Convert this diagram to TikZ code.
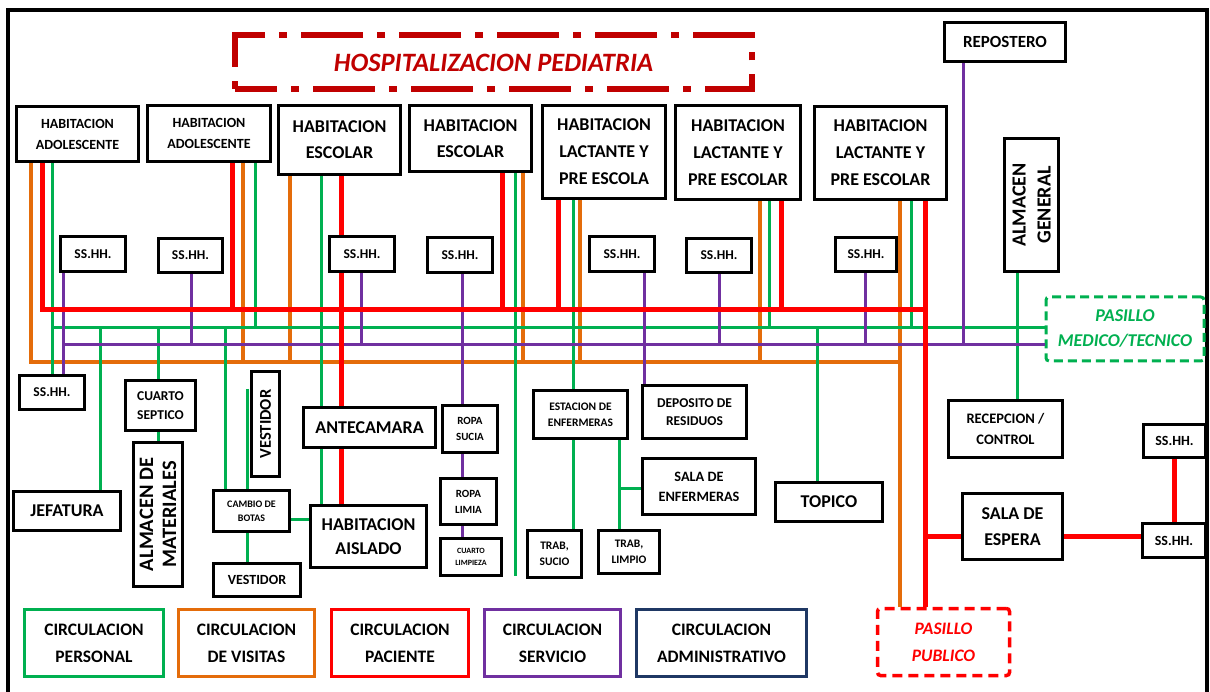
\documentclass[tikz,border=0pt]{standalone}
\usepackage{fontspec}
\setmainfont{Carlito}
\definecolor{cverde}{RGB}{0,176,80}
\definecolor{cnaranja}{RGB}{228,108,10}
\definecolor{crojo}{RGB}{255,0,0}
\definecolor{cmorado}{RGB}{112,48,160}
\definecolor{cazul}{RGB}{31,56,100}
\definecolor{cguinda}{RGB}{192,0,0}
\newcommand{\letra}[2]{\fontsize{#1}{#2}\selectfont\bfseries}
\tikzset{
  caja/.style={draw, line width=3.5pt, fill=white, align=center, inner sep=1pt},
  per/.style={cverde, line width=3pt},
  vis/.style={cnaranja, line width=4pt},
  pac/.style={crojo, line width=5pt},
  ser/.style={cmorado, line width=3pt},
  leyenda/.style={draw, line width=3pt, align=center, inner sep=1pt, minimum height=67, font=\letra{17.5}{27}},
}
\begin{document}
\begin{tikzpicture}[x=1pt, y=-1pt]
\useasboundingbox (0,0) rectangle (1210,692);

\draw[line width=4pt] (8,700) -- (8,10) -- (1207,10) -- (1207,700);

% titulo
\node[draw=cguinda, line width=6pt, dash pattern=on 62pt off 14pt on 8pt off 14pt, dash phase=20pt, text=cguinda,
  font={\letra{26.5}{30}\itshape}, minimum width=517, minimum height=54] (titulo) at (493.5,62.5) {HOSPITALIZACION PEDIATRIA};

% habitaciones
\node[caja, minimum width=122, minimum height=55, font=\letra{14}{21}] (hab1) at (77.5,134) {HABITACION\\ADOLESCENTE};
\node[caja, minimum width=123, minimum height=56, font=\letra{14}{21}] (hab2) at (209,133.5) {HABITACION\\ADOLESCENTE};
\node[caja, minimum width=122, minimum height=69, font=\letra{18}{26}] (hab3) at (339.5,140) {HABITACION\\ESCOLAR};
\node[caja, minimum width=122, minimum height=66, font=\letra{18}{26}] (hab4) at (470.5,138.5) {HABITACION\\ESCOLAR};
\node[caja, minimum width=123, minimum height=93, font=\letra{18}{27}] (hab5) at (604,152) {HABITACION\\LACTANTE Y\\PRE ESCOLA};
\node[caja, minimum width=125, minimum height=94, font=\letra{18}{27}] (hab6) at (738,152.5) {HABITACION\\LACTANTE Y\\PRE ESCOLAR};
\node[caja, minimum width=132, minimum height=93, font=\letra{18}{27}] (hab7) at (880.5,153) {HABITACION\\LACTANTE Y\\PRE ESCOLAR};

\node[caja, minimum width=121, minimum height=39, font=\letra{17}{20}] (repostero) at (1005,42) {REPOSTERO};
\node[caja, rotate=90, minimum width=133, minimum height=54, font=\letra{20}{25}] (almgen) at (1031.5,205) {ALMACEN\\GENERAL};
\node[caja, draw=cverde, line width=3pt, dash pattern=on 9pt off 5pt, rounded corners=3pt, text=cverde,
  minimum width=158, minimum height=64, font={\letra{18}{25}\itshape}] (pasmed) at (1125,329) {PASILLO\\MEDICO/TECNICO};

% servicios higienicos
\node[caja, minimum width=65, minimum height=35, font=\letra{13.5}{16}] (ss1) at (93,254) {SS.HH.};
\node[caja, minimum width=64, minimum height=34, font=\letra{13.5}{16}] (ss2) at (190.5,255.5) {SS.HH.};
\node[caja, minimum width=65, minimum height=35, font=\letra{13.5}{16}] (ss3) at (362,254) {SS.HH.};
\node[caja, minimum width=65, minimum height=35, font=\letra{13.5}{16}] (ss4) at (460,255) {SS.HH.};
\node[caja, minimum width=65, minimum height=35, font=\letra{13.5}{16}] (ss5) at (622,254) {SS.HH.};
\node[caja, minimum width=65, minimum height=34, font=\letra{13.5}{16}] (ss6) at (719,255.5) {SS.HH.};
\node[caja, minimum width=61, minimum height=34, font=\letra{13.5}{16}] (ss7) at (866,254.5) {SS.HH.};
\node[caja, minimum width=65, minimum height=34, font=\letra{13.5}{16}] (ss0) at (52,392.5) {SS.HH.};

% zona de personal
\node[caja, minimum width=70, minimum height=50, font=\letra{13.5}{19}] (septico) at (160.5,405.5) {CUARTO\\SEPTICO};
\node[caja, rotate=90, minimum width=144, minimum height=49, font=\letra{20.5}{23}] (almmat) at (158,514.5) {ALMACEN DE\\MATERIALES};
\node[caja, rotate=90, minimum width=105, minimum height=28, font=\letra{16.5}{18}] (vest1) at (265.5,424) {VESTIDOR};
\node[caja, minimum width=107, minimum height=39, font=\letra{18}{20}] (jefatura) at (67,511) {JEFATURA};
\node[caja, minimum width=76, minimum height=41, font=\letra{10}{14}] (cambio) at (251.5,511) {CAMBIO DE\\BOTAS};
\node[caja, minimum width=87, minimum height=33, font=\letra{14}{16}] (vest2) at (257,580) {VESTIDOR};
\node[caja, minimum width=132, minimum height=40, font=\letra{18}{20}] (antecamara) at (369.5,427.5) {ANTECAMARA};
\node[caja, minimum width=116, minimum height=62, font=\letra{18}{24}] (aislado) at (368.5,536.5) {HABITACION\\AISLADO};

% servicio
\node[caja, minimum width=55, minimum height=47, font=\letra{11}{16}] (ropasucia) at (470,429) {ROPA\\SUCIA};
\node[caja, minimum width=56, minimum height=46, font=\letra{11}{16}] (ropalimia) at (468.5,501.5) {ROPA\\LIMIA};
\node[caja, minimum width=61, minimum height=37, font=\letra{8}{12}] (cuartolimp) at (471,557) {CUARTO\\LIMPIEZA};
\node[caja, minimum width=94, minimum height=48, font=\letra{11.5}{16}] (estacion) at (580.5,414.5) {ESTACION DE\\ENFERMERAS};
\node[caja, minimum width=104, minimum height=53, font=\letra{13.5}{18}] (deposito) at (694.5,412) {DEPOSITO DE\\RESIDUOS};
\node[caja, minimum width=113, minimum height=56, font=\letra{14.3}{20}] (salaenf) at (699,486.5) {SALA DE\\ENFERMERAS};
\node[caja, minimum width=54, minimum height=47, font=\letra{11.5}{16}] (trabsucio) at (554.5,554) {TRAB,\\SUCIO};
\node[caja, minimum width=61, minimum height=43, font=\letra{11.5}{16}] (trablimpio) at (629,552) {TRAB,\\LIMPIO};
\node[caja, minimum width=107, minimum height=39, font=\letra{18}{20}] (topico) at (829,502) {TOPICO};

% zona publica
\node[caja, minimum width=114, minimum height=57, font=\letra{14.5}{21}] (recepcion) at (1005.5,429) {RECEPCION /\\CONTROL};
\node[caja, minimum width=100, minimum height=66, font=\letra{18}{26}] (espera) at (1012.5,526.5) {SALA DE\\ESPERA};
\node[caja, minimum width=62, minimum height=33, font=\letra{14}{16}] (ssR1) at (1174.5,441) {SS.HH.};
\node[caja, minimum width=63, minimum height=34, font=\letra{14}{16}] (ssR2) at (1174,540.5) {SS.HH.};
\node[caja, draw=crojo, dash pattern=on 10pt off 6pt, rounded corners=3pt, text=crojo,
  minimum width=132, minimum height=67, font={\letra{17.5}{27}\itshape}] (paspub) at (943.5,642) {PASILLO\\PUBLICO};

% leyenda
\node[leyenda, draw=cverde, minimum width=139] (leg1) at (94,643) {CIRCULACION\\PERSONAL};
\node[leyenda, draw=cnaranja, minimum width=136] (leg2) at (246.5,643) {CIRCULACION\\DE VISITAS};
\node[leyenda, draw=crojo, minimum width=137] (leg3) at (400,643) {CIRCULACION\\PACIENTE};
\node[leyenda, draw=cmorado, minimum width=136] (leg4) at (552.5,643) {CIRCULACION\\SERVICIO};
\node[leyenda, draw=cazul, minimum width=170] (leg5) at (721.5,643) {CIRCULACION\\ADMINISTRATIVO};

% circulacion de visitas
\draw[vis] (hab1.south -| 31,0) |- (900,362);
\foreach \n/\x in {hab2/243, hab3/290, hab4/523, hab5/580, hab6/760}
  \draw[vis] (\n.south -| \x,0) -- (\x,362);
\draw[vis] (hab7.south -| 900,0) -- (paspub.north -| 900,0);

% circulacion personal
\draw[per] (52,328) -- (pasmed.west |- 52,328);
\draw[per] (hab1.south -| 52,0) -- (ss0.north -| 52,0);
\foreach \n/\x in {hab2/255, hab6/769, hab7/911}
  \draw[per] (\n.south -| \x,0) -- (\x,328);
\foreach \n/\x in {jefatura/100, septico/158, cambio/225, topico/817}
  \draw[per] (\x,328) -- (\n.north -| \x,0);
\draw[per] (almmat.east |- septico.south) -- (almmat.east);
\coordinate (vesttap) at (247,389);
\draw[per] (vesttap) -- (vesttap |- cambio.north);
\draw[per] (vesttap |- cambio.south) -- (vesttap |- vest2.north);
\draw[per] (cambio.east |- 0,519) -- (aislado.west |- 0,519);
\draw[per] (hab3.south -| 321,0) -- (antecamara.north -| 321,0);
\draw[per] (antecamara.south -| 321,0) -- (aislado.north -| 321,0);
\coordinate (finverde) at (515,576);
\draw[per] (hab4.south -| finverde) -- (finverde);
\draw[per] (hab5.south -| 573,0) -- (estacion.north -| 573,0);
\draw[per] (estacion.south -| 573,0) -- (trabsucio.north -| 573,0);
\draw[per] (estacion.south -| 619,0) -- (trablimpio.north -| 619,0);
\draw[per] (619,488) -- (salaenf.west |- 0,488);
\draw[per] (almgen.west -| 1017,0) -- (recepcion.north -| 1017,0);

% circulacion servicio
\draw[ser] (63,345) -- (pasmed.west |- 63,345);
\draw[ser] (ss1.south -| 63,0) -- (ss0.north -| 63,0);
\foreach \n/\x in {ss2/191, ss3/361, ss6/719, ss7/865, repostero/963}
  \draw[ser] (\n.south -| \x,0) -- (\x,345);
\draw[ser] (ss4.south -| 462,0) -- (ropasucia.north -| 462,0);
\draw[ser] (ropasucia.south -| 462,0) -- (ropalimia.north -| 462,0);
\draw[ser] (ropalimia.south -| 462,0) -- (cuartolimp.north -| 462,0);
\draw[ser] (ss5.south -| 644,0) -- (deposito.north -| 644,0);

% circulacion paciente
\draw[pac] (hab1.south -| 42,0) |- (925,310);
\foreach \n/\x in {hab2/232, hab4/502, hab5/558, hab6/781}
  \draw[pac] (\n.south -| \x,0) -- (\x,310);
\draw[pac] (hab3.south -| 341,0) -- (ss3.north -| 341,0);
\draw[pac] (ss3.south -| 341,0) -- (antecamara.north -| 341,0);
\draw[pac] (antecamara.south -| 341,0) -- (aislado.north -| 341,0);
\draw[pac] (hab7.south -| 925,0) -- (paspub.north -| 925,0);
\draw[pac] (925,536) -- (espera.west |- 0,536);
\draw[pac] (espera.east |- 0,536) -- (ssR2.west |- 0,536);
\draw[pac] (ssR1.south -| 1174,0) -- (ssR2.north -| 1174,0);
\end{tikzpicture}
\end{document}
